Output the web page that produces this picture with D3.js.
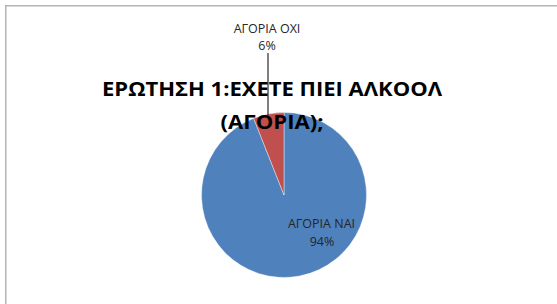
<!DOCTYPE html>
<html><head><meta charset="utf-8">
<script src="https://cdn.jsdelivr.net/npm/d3@7"></script>
<style>html,body{margin:0;padding:0;background:#fff;}svg{display:block;}</style>
</head><body>
<svg id="chart" width="557" height="304"></svg>
<script>
const categories = ["ΑΓΟΡΙΑ ΝΑΙ", "ΑΓΟΡΙΑ ΟΧΙ"];
const values = [94, 6];
const percentLabels = ["94%", "6%"];
const titleLines = ["ΕΡΩΤΗΣΗ 1:ΕΧΕΤΕ ΠΙΕΙ ΑΛΚΟΟΛ", "(ΑΓΟΡΙΑ);"];
const colors = ["#4F81BD", "#C0504D"];

const svg = d3.select("#chart");
const W = 557, H = 304;
const cx = 284, cy = 195, r = 82.5;

// frame
svg.append("path").attr("d", `M5.75,${H} V5.75 H${W}`)
  .attr("fill", "none").attr("stroke", "#b4b4b4").attr("stroke-width", 1.5);

const pie = d3.pie().sort(null).value(d => d)(values);
const arc = d3.arc().innerRadius(0).outerRadius(r);
const g = svg.append("g").attr("transform", `translate(${cx},${cy})`);
g.selectAll("path.slice").data(pie).join("path")
  .attr("class", "slice")
  .attr("d", arc)
  .attr("fill", (d, i) => colors[i])
  .attr("stroke", "#ffffff").attr("stroke-width", 0.4);

// leader line for small slice
const small = pie[1];
const lx = 268;
const edgeY = -Math.sqrt(r * r - (lx - cx) * (lx - cx));
svg.append("line").attr("x1", lx).attr("x2", lx)
  .attr("y1", 53).attr("y2", cy + edgeY + 1)
  .attr("stroke", "#000").attr("stroke-width", 1);

const lblFont = "'Open Sans', sans-serif";
// small slice label
const lbl2 = svg.append("text").attr("font-family", lblFont).attr("font-size", 12.5)
  .attr("fill", "#262626").attr("text-anchor", "middle");
lbl2.append("tspan").attr("x", 267).attr("y", 33).text(categories[1]);
lbl2.append("tspan").attr("x", 267).attr("y", 50).text(percentLabels[1]);

// big slice label
const lbl1 = svg.append("text").attr("font-family", lblFont).attr("font-size", 12.5)
  .attr("fill", "#262626").attr("text-anchor", "middle");
lbl1.append("tspan").attr("x", 321.5).attr("y", 227.5).text(categories[0]);
lbl1.append("tspan").attr("x", 322).attr("y", 245.5).text(percentLabels[0]);

// title
const titleY = [95.5, 129];
const titleW = [340, 103];
titleLines.forEach((t, i) => {
  svg.append("text").attr("x", 272).attr("y", titleY[i])
    .attr("text-anchor", "middle")
    .attr("font-family", "'Open Sans', sans-serif").attr("font-weight", "bold")
    .attr("font-size", 20.3).attr("fill", "#000")
    .attr("textLength", titleW[i]).attr("lengthAdjust", "spacingAndGlyphs")
    .text(t);
});
</script>
</body></html>
